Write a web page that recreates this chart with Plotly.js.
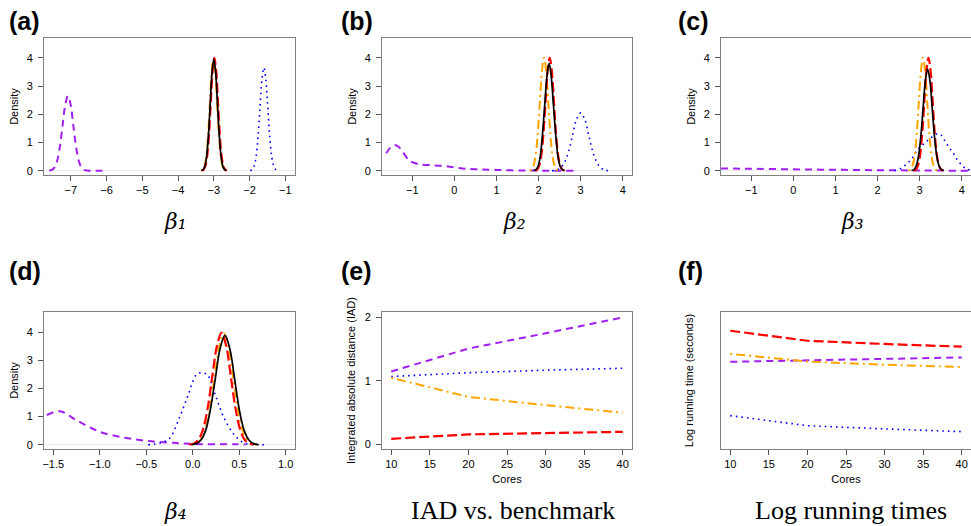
<!DOCTYPE html>
<html>
<head>
<meta charset="utf-8">
<script src="https://cdn.plot.ly/plotly-3.0.1.min.js"></script>
<style>html,body{margin:0;padding:0;background:#fff;}#chart{width:971px;height:526px;}</style>
</head>
<body>
<div id="chart"></div>
<script>
// ---------- Panel (a): beta_1 densities ----------
const a_black_x = [-3.35,-3.30,-3.25,-3.20,-3.15,-3.10,-3.05,-3.00,-2.95,-2.90,-2.85,-2.80,-2.75,-2.70,-2.65];
const a_black_y = [0.01,0.04,0.17,0.53,1.28,2.40,3.49,3.95,3.49,2.40,1.28,0.53,0.17,0.04,0.01];
const a_red_x = [-3.335,-3.285,-3.235,-3.185,-3.135,-3.085,-3.035,-2.985,-2.935,-2.885,-2.835,-2.785,-2.735,-2.685,-2.635];
const a_red_y = [0.01,0.04,0.18,0.54,1.30,2.43,3.53,4.00,3.53,2.43,1.30,0.54,0.18,0.04,0.01];
const a_orange_x = [-3.36,-3.31,-3.26,-3.21,-3.16,-3.11,-3.06,-3.01,-2.96,-2.91,-2.86,-2.81,-2.76,-2.71,-2.66];
const a_orange_y = [0.01,0.04,0.17,0.54,1.29,2.41,3.50,3.97,3.50,2.41,1.29,0.54,0.17,0.04,0.01];
const a_blue_x = [-1.985,-1.93,-1.875,-1.82,-1.765,-1.71,-1.655,-1.60,-1.545,-1.49,-1.435,-1.38,-1.325,-1.27,-1.215];
const a_blue_y = [0.01,0.04,0.16,0.49,1.19,2.21,3.22,3.65,3.22,2.21,1.19,0.49,0.16,0.04,0.01];
const a_purple_x = [-7.605,-7.53,-7.455,-7.38,-7.305,-7.23,-7.155,-7.08,-7.005,-6.93,-6.855,-6.78,-6.705,-6.63,-6.555,-6.3,-6.0];
const a_purple_y = [0.01,0.03,0.12,0.36,0.86,1.61,2.34,2.65,2.34,1.61,0.86,0.36,0.12,0.03,0.01,0.0,0.0];

// ---------- Panel (b): beta_2 densities ----------
const b_black_x = [1.88,1.935,1.99,2.04,2.09,2.145,2.20,2.25,2.30,2.355,2.41,2.46,2.51,2.565,2.62];
const b_black_y = [0.01,0.04,0.17,0.51,1.23,2.30,3.35,3.80,3.35,2.30,1.23,0.51,0.17,0.04,0.01];
const b_red_x = [1.915,1.965,2.015,2.065,2.115,2.165,2.215,2.265,2.315,2.365,2.415,2.465,2.515,2.565,2.615];
const b_red_y = [0.01,0.04,0.18,0.54,1.30,2.43,3.53,4.00,3.53,2.43,1.30,0.54,0.18,0.04,0.01];
const b_orange_x = [1.78,1.83,1.88,1.93,1.98,2.03,2.08,2.13,2.18,2.23,2.28,2.33,2.38,2.43,2.48];
const b_orange_y = [0.01,0.04,0.18,0.54,1.30,2.43,3.53,4.00,3.53,2.43,1.30,0.54,0.18,0.04,0.01];
const b_blue_x = [2.32,2.415,2.51,2.61,2.71,2.805,2.90,3.0,3.10,3.195,3.29,3.39,3.49,3.585,3.68];
const b_blue_y = [0.0,0.02,0.09,0.28,0.67,1.24,1.81,2.05,1.81,1.24,0.67,0.28,0.09,0.02,0.0];
const b_purple_x = [-1.62,-1.52,-1.42,-1.32,-1.22,-1.06,-0.87,-0.59,-0.27,0.0,0.29,0.6,1.0,1.5,2.0,2.85];
const b_purple_y = [0.62,0.82,0.91,0.84,0.65,0.35,0.24,0.20,0.17,0.12,0.07,0.05,0.03,0.01,0.005,0.0];

// ---------- Panel (c): beta_3 densities ----------
const c_black_x = [2.805,2.86,2.915,2.97,3.025,3.08,3.135,3.19,3.245,3.30,3.355,3.41,3.465,3.52,3.575];
const c_black_y = [0.01,0.04,0.16,0.49,1.17,2.18,3.18,3.60,3.18,2.18,1.17,0.49,0.16,0.04,0.01];
const c_red_x = [2.86,2.91,2.96,3.01,3.06,3.11,3.16,3.21,3.26,3.31,3.36,3.41,3.46,3.51,3.56];
const c_red_y = [0.01,0.04,0.18,0.54,1.30,2.43,3.53,4.00,3.53,2.43,1.30,0.54,0.18,0.04,0.01];
const c_orange_x = [2.73,2.78,2.83,2.88,2.93,2.98,3.03,3.08,3.13,3.18,3.23,3.28,3.33,3.38,3.43];
const c_orange_y = [0.01,0.04,0.18,0.54,1.30,2.43,3.53,4.00,3.53,2.43,1.30,0.54,0.18,0.04,0.01];
const c_blue_x = [2.4,2.55,2.7,2.82,2.95,3.1,3.25,3.4,3.5,3.61,3.71,3.81,3.9,4.0,4.1,4.2];
const c_blue_y = [0.0,0.08,0.25,0.44,0.75,0.95,1.15,1.30,1.28,1.03,0.80,0.60,0.38,0.20,0.07,0.02];
const c_purple_x = [-1.72,-1,0,1,2,3,4.22];
const c_purple_y = [0.08,0.07,0.05,0.035,0.02,0.01,0.0];

// ---------- Panel (d): beta_4 densities ----------
const d_black_x = [-0.015,0.037,0.088,0.14,0.19,0.243,0.295,0.346,0.398,0.45,0.50,0.552,0.604,0.655,0.707];
const d_black_y = [0.01,0.04,0.17,0.52,1.26,2.35,3.42,3.88,3.42,2.35,1.26,0.52,0.17,0.04,0.01];
const d_red_x = [-0.04,0.01,0.06,0.11,0.16,0.21,0.26,0.31,0.36,0.41,0.46,0.51,0.56,0.61,0.66];
const d_red_y = [0.01,0.04,0.17,0.54,1.29,2.41,3.50,3.97,3.50,2.41,1.29,0.54,0.17,0.04,0.01];
const d_orange_x = [-0.015,0.035,0.085,0.135,0.185,0.235,0.285,0.335,0.385,0.435,0.485,0.535,0.585,0.635,0.685];
const d_orange_y = [0.01,0.04,0.17,0.53,1.28,2.40,3.49,3.95,3.49,2.40,1.28,0.53,0.17,0.04,0.01];
const d_blue_x = [-0.48,-0.35,-0.25,-0.14,-0.05,0.035,0.09,0.16,0.25,0.34,0.45,0.55,0.65,0.78];
const d_blue_y = [0.0,0.06,0.23,0.99,1.76,2.47,2.56,2.47,1.70,0.93,0.34,0.07,0.01,0.0];
const d_purple_x = [-1.57,-1.43,-1.25,-1.0,-0.73,-0.48,-0.21,0.09,0.45,0.57];
const d_purple_y = [1.05,1.19,0.87,0.46,0.25,0.13,0.07,0.02,0.02,0.01];

// ---------- Panels (e) and (f): by number of cores ----------
const cores = [10, 20, 30, 40];
const e_red = [0.09, 0.16, 0.18, 0.20];
const e_orange = [1.05, 0.75, 0.62, 0.50];
const e_purple = [1.15, 1.51, 1.75, 2.00];
const e_blue = [1.07, 1.13, 1.17, 1.20];
const f_red = [9.18, 8.74, 8.60, 8.48];
const f_orange = [8.17, 7.83, 7.69, 7.59];
const f_purple = [7.82, 7.89, 7.95, 8.01];
const f_blue = [5.46, 5.02, 4.88, 4.76];

// ---------- Text ----------
const panelLabels = ['(a)', '(b)', '(c)', '(d)', '(e)', '(f)'];
const bottomTitles = ['β₁', 'β₂', 'β₃', 'β₄', 'IAD vs. benchmark', 'Log running times'];
const densityTitle = 'Density';
const iadTitle = 'Integrated absolute distance (IAD)';
const timeTitle = 'Log running time (seconds)';
const coresTitle = 'Cores';

// ---------- Styles ----------
const W = 971, H = 526;
const STY = {
  black:  {color: '#000000', width: 1.7, dash: 'solid'},
  red:    {color: '#FF0000', width: 2.2, dash: '10px,4px'},
  orange: {color: '#FFA500', width: 2, dash: '2px,4px,9px,4px'},
  blue:   {color: '#0000FF', width: 1.6, dash: '1.6px,4px'},
  purple: {color: '#A020F0', width: 2, dash: '7px,5px'}
};
function tr(x, y, style, ax, shape) {
  const n = ax === 1 ? '' : String(ax);
  return {type: 'scatter', mode: 'lines', x: x, y: y, xaxis: 'x' + n, yaxis: 'y' + n,
    line: Object.assign({shape: shape || 'spline', smoothing: 1}, STY[style]),
    hoverinfo: 'skip', showlegend: false};
}
const traces = [
  tr(a_purple_x, a_purple_y, 'purple', 1), tr(a_blue_x, a_blue_y, 'blue', 1),
  tr(a_orange_x, a_orange_y, 'orange', 1), tr(a_red_x, a_red_y, 'red', 1), tr(a_black_x, a_black_y, 'black', 1),
  tr(b_purple_x, b_purple_y, 'purple', 2), tr(b_blue_x, b_blue_y, 'blue', 2),
  tr(b_orange_x, b_orange_y, 'orange', 2), tr(b_red_x, b_red_y, 'red', 2), tr(b_black_x, b_black_y, 'black', 2),
  tr(c_purple_x, c_purple_y, 'purple', 3), tr(c_blue_x, c_blue_y, 'blue', 3),
  tr(c_orange_x, c_orange_y, 'orange', 3), tr(c_red_x, c_red_y, 'red', 3), tr(c_black_x, c_black_y, 'black', 3),
  tr(d_purple_x, d_purple_y, 'purple', 4), tr(d_blue_x, d_blue_y, 'blue', 4),
  tr(d_orange_x, d_orange_y, 'orange', 4), tr(d_red_x, d_red_y, 'red', 4), tr(d_black_x, d_black_y, 'black', 4),
  tr(cores, e_purple, 'purple', 5, 'linear'), tr(cores, e_blue, 'blue', 5, 'linear'),
  tr(cores, e_orange, 'orange', 5, 'linear'), tr(cores, e_red, 'red', 5, 'linear'),
  tr(cores, f_purple, 'purple', 6, 'linear'), tr(cores, f_blue, 'blue', 6, 'linear'),
  tr(cores, f_orange, 'orange', 6, 'linear'), tr(cores, f_red, 'red', 6, 'linear')
];

const SANS = 'Liberation Sans, Arial, Helvetica, sans-serif';
const SERIF = 'DejaVu Serif, Liberation Serif, serif';
const SERIF2 = 'Liberation Serif, Times New Roman, serif';
const tickFont = {family: SANS, size: 11, color: '#000'};
const axFont = {family: SANS, size: 11, color: '#000'};
function xa(dom, range, anchor, extra) {
  return Object.assign({domain: dom, range: range, anchor: anchor, showline: true, mirror: true,
    linecolor: '#808080', linewidth: 1, ticks: 'outside', ticklen: 5, tickcolor: '#555',
    tickfont: tickFont, showgrid: false, zeroline: false, fixedrange: true, automargin: false}, extra || {});
}
function ya(dom, range, anchor, extra) {
  return Object.assign({domain: dom, range: range, anchor: anchor, showline: true, mirror: true,
    linecolor: '#808080', linewidth: 1, ticks: 'outside', ticklen: 5, tickcolor: '#555',
    tickfont: tickFont, showgrid: false, zeroline: true, zerolinecolor: '#ececec', zerolinewidth: 1,
    ticklabelstandoff: 3, fixedrange: true, automargin: false, tickmode: 'linear', tick0: 0, dtick: 1}, extra || {});
}
const col1 = [44 / W, 295 / W], col2 = [382 / W, 632 / W], col3 = [721 / W, 1];
const row1 = [1 - 175 / H, 1 - 38 / H], row2 = [1 - 449 / H, 1 - 312 / H];
const dens = [-0.15, 4.70];
function ttl(text, standoff) { return {text: text, font: axFont, standoff: standoff}; }

const layout = {
  width: W, height: H, margin: {l: 0, r: 0, t: 0, b: 0},
  paper_bgcolor: '#fff', plot_bgcolor: '#fff', showlegend: false,
  xaxis:  xa(col1, [-7.75, -0.73], 'y',  {tickmode: 'linear', tick0: -7, dtick: 1}),
  yaxis:  ya(row1, dens, 'x', {title: ttl(densityTitle, 5)}),
  xaxis2: xa(col2, [-1.72, 4.22], 'y2', {tickmode: 'linear', tick0: -1, dtick: 1}),
  yaxis2: ya(row1, dens, 'x2', {title: ttl(densityTitle, 5)}),
  xaxis3: xa(col3, [-1.72, 4.22], 'y3', {tickmode: 'linear', tick0: -1, dtick: 1}),
  yaxis3: ya(row1, dens, 'x3', {title: ttl(densityTitle, 5)}),
  xaxis4: xa(col1, [-1.6, 1.1], 'y4', {tickmode: 'linear', tick0: -1.5, dtick: 0.5, tickformat: '.1f'}),
  yaxis4: ya(row2, [-0.15, 4.71], 'x4', {title: ttl(densityTitle, 5)}),
  xaxis5: xa(col2, [8.8, 41.2], 'y5', {tickmode: 'linear', tick0: 10, dtick: 5, title: ttl(coresTitle, 6)}),
  yaxis5: ya(row2, [-0.07, 2.085], 'x5', {zeroline: false, title: ttl(iadTitle, 6)}),
  xaxis6: xa(col3, [8.8, 41.2], 'y6', {tickmode: 'linear', tick0: 10, dtick: 5, title: ttl(coresTitle, 6)}),
  yaxis6: ya(row2, [4, 10], 'x6', {zeroline: false, showticklabels: false, ticks: '', title: ttl(timeTitle, 24)}),
  annotations: []
};

function ann(text, x, y, opts) {
  layout.annotations.push(Object.assign({text: text, xref: 'paper', yref: 'paper',
    x: x / W, y: 1 - y / H, showarrow: false, xanchor: 'center', yanchor: 'middle'}, opts || {}));
}
// panel labels
const labelPos = [[7, 21], [339, 21], [676, 21], [7, 271], [339, 271], [676, 271]];
panelLabels.forEach((t, i) => ann(t, labelPos[i][0], labelPos[i][1],
  {xanchor: 'left', font: {family: SANS, size: 25, weight: 'bold', color: '#000'}}));
// bottom titles
const titlePos = [[175, 221], [514, 221], [852, 221], [175, 511], [513, 510], [851, 510]];
bottomTitles.forEach((t, i) => ann(t, titlePos[i][0], titlePos[i][1],
  {font: i < 4 ? {family: SERIF, size: 22, style: 'italic', color: '#000'}
               : {family: SERIF2, size: 26, color: '#000'}}));

Plotly.newPlot('chart', traces, layout, {staticPlot: true, displayModeBar: false});
</script>
</body>
</html>
